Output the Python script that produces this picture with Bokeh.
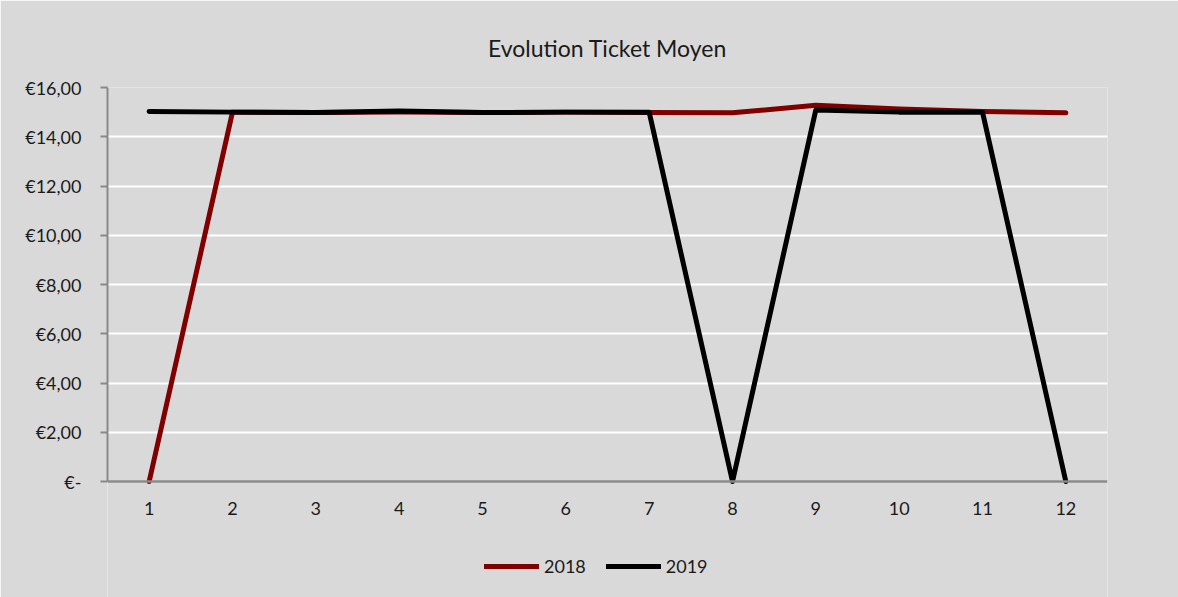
from bokeh.plotting import figure
from bokeh.models import FixedTicker, Legend, LegendItem, Range1d, Span
from bokeh.core.properties import value
from bokeh.embed import file_html
from bokeh.resources import INLINE

months = [1, 2, 3, 4, 5, 6, 7, 8, 9, 10, 11, 12]
ticket_2018 = [0.0, 15.0, 14.98, 15.0, 14.98, 15.0, 14.98, 14.97, 15.28, 15.13, 15.03, 14.97]
ticket_2019 = [15.03, 15.0, 14.98, 15.05, 14.98, 15.0, 15.0, 0.0, 15.09, 15.0, 15.0, 0.0]
y_ticks = [0, 2, 4, 6, 8, 10, 12, 14, 16]
y_labels = ["€-", "€2,00", "€4,00", "€6,00", "€8,00", "€10,00", "€12,00", "€14,00", "€16,00"]
title_text = "Evolution Ticket Moyen"
series_names = ["2018", "2019"]
colors = ["#800000", "#000000"]

FONT = "Lato"
BG = "#d9d9d9"
AXIS = "#898989"

# plot geometry: value axis 0..16 spans 394 px; 116 px of room kept below zero
PLOT_H = 394
BELOW = 116
y_min = -BELOW * 16 / PLOT_H

p = figure(frame_width=1000, frame_height=PLOT_H + BELOW, output_backend="svg", toolbar_location=None,
           x_range=Range1d(0.5, 12.5), y_range=Range1d(y_min, 16), x_axis_location=None,
           min_border_left=107, min_border_right=71, min_border_top=87, min_border_bottom=0,
           background_fill_color=BG, border_fill_color=BG, outline_line_color=None)

p.title.text = title_text
p.title.align = "center"
p.title.text_font = FONT
p.title.text_font_size = "23px"
p.title.text_font_style = "normal"
p.title.text_color = "#1a1a1a"
p.title.standoff = 52

p.xgrid.grid_line_color = None
p.ygrid.grid_line_color = "white"
p.ygrid.grid_line_width = 2
p.ygrid.ticker = FixedTicker(ticks=y_ticks)

# category axis line at zero
p.add_layout(Span(location=0, dimension="width", line_color=AXIS, line_width=2.5))
p.text(x=months, y=[0] * len(months), text=[str(m) for m in months],
       text_font=value(FONT), text_font_size="18px", text_color="#1a1a1a",
       text_align="center", text_baseline="middle", y_offset=27)

r1 = p.line(months, ticket_2018, line_color=colors[0], line_width=5, line_cap="round", line_join="round")
r2 = p.line(months, ticket_2019, line_color=colors[1], line_width=5, line_cap="round", line_join="round")

p.yaxis.ticker = FixedTicker(ticks=y_ticks)
p.yaxis.major_label_overrides = {t: l for t, l in zip(y_ticks, y_labels)}
p.yaxis.bounds = (0, 16)
p.yaxis.axis_line_color = AXIS
p.yaxis.axis_line_width = 2
p.yaxis.major_tick_line_color = AXIS
p.yaxis.major_tick_line_width = 2
p.yaxis.minor_tick_line_color = None
p.yaxis.major_label_text_font = FONT
p.yaxis.major_label_text_font_size = "18px"
p.yaxis.major_label_text_color = "#1a1a1a"
p.yaxis.major_tick_out = 7
p.yaxis.major_tick_in = 0
p.yaxis.major_label_standoff = 19

legend = Legend(items=[LegendItem(label=series_names[0], renderers=[r1]),
                       LegendItem(label=series_names[1], renderers=[r2])],
                orientation="horizontal", location=(377, 20),
                background_fill_alpha=0, border_line_color=None,
                glyph_width=55, glyph_height=20, label_standoff=5, spacing=20,
                padding=0, margin=0,
                label_text_font=FONT, label_text_font_size="18px",
                label_text_color="#1a1a1a")
p.add_layout(legend, "center")

open("out.html", "w").write(file_html(p, INLINE))
